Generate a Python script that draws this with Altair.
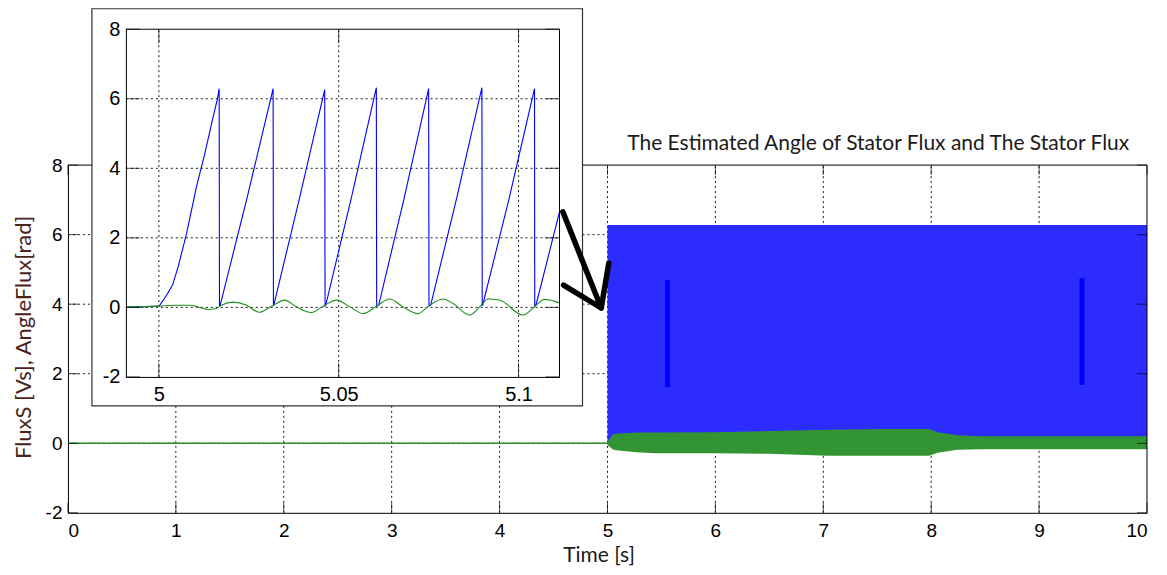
import altair as alt
import pandas as pd

# ---------------- main plot data (time 0..10 s) ----------------
pre_t = [0.0, 5.0]
pre_flux = [0.0, 0.0]

# dense stator-angle sawtooth after 5 s, drawn as its envelope
angle_env_t = [5.0, 10.0]
angle_env_hi = [6.28, 6.28]
angle_env_lo = [0.0, 0.0]

# dense stator-flux oscillation after 5 s, drawn as its envelope
flux_env_t = [5.0, 5.05, 5.1, 5.27, 5.44, 5.98, 6.5, 7.04, 7.57, 7.98, 8.06, 8.24, 8.46, 9.17, 10.0]
flux_env_hi = [0.04, 0.26, 0.28, 0.31, 0.31, 0.32, 0.35, 0.39, 0.41, 0.41, 0.32, 0.23, 0.2, 0.2, 0.2]
flux_env_lo = [-0.05, -0.18, -0.21, -0.26, -0.29, -0.29, -0.3, -0.36, -0.36, -0.36, -0.27, -0.19, -0.17, -0.17, -0.17]

# darker (overlapping) blue segments inside the dense block
dense_t = [5.556, 9.398]
dense_lo = [1.62, 1.68]
dense_hi = [4.70, 4.75]

main_xticks = [0, 1, 2, 3, 4, 5, 6, 7, 8, 9, 10]
main_yticks = [-2, 0, 2, 4, 6, 8]
main_xgrid = [1, 2, 3, 4, 5, 6, 7, 8, 9]
main_ygrid = [0, 2, 4, 6]

# ---------------- inset data (zoom 4.99..5.11 s) ----------------
ins_angle_t = [4.99083, 5.00009, 5.00213, 5.0038, 5.00537, 5.00769, 5.01046, 5.01278, 5.01509, 5.0162, 5.01676,
               5.01685, 5.01704, 5.0244, 5.03176,
               5.03185, 5.03194, 5.0390, 5.04611,
               5.0462, 5.04639, 5.0534, 5.06046,
               5.06055, 5.06111, 5.0681, 5.075,
               5.0751, 5.07556, 5.0827, 5.08981,
               5.0899, 5.09009, 5.0973, 5.10444,
               5.1045, 5.10491, 5.11139]
ins_angle_v = [0.0, 0.035, 0.35, 0.64, 1.17, 2.12, 3.47, 4.43, 5.48, 5.96, 6.29,
               0.04, 0.06, 3.1, 6.29,
               0.04, 0.06, 3.1, 6.26,
               0.04, 0.06, 3.1, 6.32,
               0.04, 0.06, 3.1, 6.29,
               0.04, 0.06, 3.1, 6.32,
               0.04, 0.09, 3.1, 6.29,
               0.04, 0.09, 2.75]

ins_flux_t = [4.99083, 5.0001, 5.004, 5.0086, 5.0114, 5.0137, 5.016, 5.0174, 5.0206, 5.0244, 5.0278,
              5.0318, 5.035, 5.0382, 5.0424, 5.0461, 5.0494, 5.0531, 5.0568, 5.0609, 5.0642,
              5.0679, 5.072, 5.0753, 5.079, 5.0818, 5.0864, 5.0896, 5.0915, 5.0947, 5.1012,
              5.1049, 5.1072, 5.11139]
ins_flux_v = [0.015, 0.035, 0.063, 0.063, -0.004, -0.06, -0.03, 0.063, 0.15, 0.063, -0.14,
              0.063, 0.21, 0.015, -0.15, 0.063, 0.21, 0.015, -0.18, 0.063, 0.24,
              0.015, -0.18, 0.063, 0.24, 0.11, -0.22, 0.063, 0.24, 0.21, -0.22,
              0.063, 0.23, 0.13]

ins_xdomain = [4.99083, 5.11139]
ins_xticks = [5.0, 5.05, 5.1]
ins_yticks = [-2, 0, 2, 4, 6, 8]
ins_ygrid = [0, 2, 4, 6]

# ---------------- hand-drawn arrow (main-plot coordinates) ----------------
arrow_x = [4.586, 4.942, 4.593, 5.012, 4.942]
arrow_y = [6.658, 3.89, 4.55, 5.175, 3.89]
arrow_part = ["a", "a", "a", "b", "b"]
arrow_ord = [0, 1, 2, 0, 1]

TITLE = "The Estimated Angle of Stator Flux and The Stator Flux"

# ---------------- layout constants ----------------
# the view rectangle is the main plot frame; the inset sits above/inside it
W, H = 1080, 348
TOP = 157
LABEL_FONT = "Liberation Sans"
TEXT_FONT = "Lato"
RAW = "'' + datum.value"   # plain labels with ASCII hyphen-minus

mx = alt.Scale(domain=[0, 10], range=[0, W], nice=False, zero=False)
my = alt.Scale(domain=[-2, 8], range=[H, 0], nice=False, zero=False)
ix = alt.Scale(domain=ins_xdomain, range=[58, 492], nice=False, zero=False)
iy = alt.Scale(domain=[-2, 8], range=[369 - TOP, 21 - TOP], nice=False, zero=False)

mxa = alt.Axis(values=main_xticks, orient="bottom", grid=False, ticks=False, tickSize=0,
               domainColor="black", labelFont=LABEL_FONT, labelFontSize=19, labelColor="black",
               labelPadding=9, labelExpr=RAW, title="Time [s]", titleFont=TEXT_FONT,
               titleFontSize=21, titleFontWeight="normal", titleColor="#1a1a1a",
               titlePadding=4, titleX=531)
mya = alt.Axis(values=main_yticks, orient="left", grid=False, ticks=False, tickSize=0,
               domainColor="black", labelFont=LABEL_FONT, labelFontSize=19, labelColor="black",
               labelPadding=6, labelExpr=RAW, title="FluxS [Vs], AngleFlux[rad]",
               titleFont=TEXT_FONT, titleFontSize=22, titleFontWeight="normal",
               titleColor="#4a2418", titlePadding=10, titleY=329 - TOP)
ixa = alt.Axis(values=ins_xticks, orient="bottom", offset=(369 - TOP) - H, zindex=1, grid=False,
               ticks=False, tickSize=0, domainColor="black", labelFont=LABEL_FONT,
               labelFontSize=20, labelColor="black", labelPadding=8, labelExpr=RAW, title=None)
iya = alt.Axis(values=ins_yticks, orient="left", offset=-58, zindex=1, grid=False,
               ticks=False, tickSize=0, domainColor="black", labelFont=LABEL_FONT,
               labelFontSize=20, labelColor="black", labelPadding=6, labelExpr=RAW, title=None)

GRID = dict(color="black", strokeDash=[2, 3], strokeWidth=1, opacity=0.9)


def frame_and_ticks(sx, sy, ax, ay, xd, yd, xt, yt, L):
    """Top/right frame lines plus inward ticks on all four sides."""
    frame = pd.DataFrame({"x1": [xd[0], xd[1]], "x2": [xd[1], xd[1]],
                          "y1": [yd[1], yd[0]], "y2": [yd[1], yd[1]]})
    layers = [alt.Chart(frame).mark_rule(color="black", strokeWidth=1).encode(
        x=alt.X("x1:Q", scale=sx, axis=ax), x2="x2:Q",
        y=alt.Y("y1:Q", scale=sy, axis=ay), y2="y2:Q")]
    xtd = pd.DataFrame({"v": xt})
    ytd = pd.DataFrame({"v": yt})
    for yv, off in ((yd[0], -L / 2), (yd[1], L / 2)):
        layers.append(alt.Chart(xtd).mark_tick(orient="vertical", size=L, thickness=1,
                                               color="black", yOffset=off).encode(
            x=alt.X("v:Q", scale=sx, axis=ax), y=alt.Y(datum=yv, scale=sy, axis=ay)))
    for xv, off in ((xd[0], L / 2), (xd[1], -L / 2)):
        layers.append(alt.Chart(ytd).mark_tick(orient="horizontal", size=L, thickness=1,
                                               color="black", xOffset=off).encode(
            y=alt.Y("v:Q", scale=sy, axis=ay), x=alt.X(datum=xv, scale=sx, axis=ax)))
    return layers


# ---------------- main plot ----------------
m_vgrid = alt.Chart(pd.DataFrame({"v": main_xgrid})).mark_rule(**GRID).encode(
    x=alt.X("v:Q", scale=mx, axis=mxa), y=alt.Y(datum=-2, scale=my, axis=mya), y2=alt.Y2(datum=8))
m_hgrid = alt.Chart(pd.DataFrame({"v": main_ygrid})).mark_rule(**GRID).encode(
    y=alt.Y("v:Q", scale=my, axis=mya), x=alt.X(datum=0, scale=mx, axis=mxa), x2=alt.X2(datum=10))
m_angle = alt.Chart(pd.DataFrame({"t": angle_env_t, "hi": angle_env_hi, "lo": angle_env_lo})).mark_area(
    color="#2c2cff").encode(x=alt.X("t:Q", scale=mx, axis=mxa), y=alt.Y("hi:Q", scale=my, axis=mya), y2="lo:Q")
m_dense = alt.Chart(pd.DataFrame({"t": dense_t, "lo": dense_lo, "hi": dense_hi})).mark_rule(
    color="#0000f6", strokeWidth=5).encode(x=alt.X("t:Q", scale=mx, axis=mxa),
                                          y=alt.Y("lo:Q", scale=my, axis=mya), y2="hi:Q")
m_flux = alt.Chart(pd.DataFrame({"t": flux_env_t, "hi": flux_env_hi, "lo": flux_env_lo})).mark_area(
    color="#339433").encode(x=alt.X("t:Q", scale=mx, axis=mxa), y=alt.Y("hi:Q", scale=my, axis=mya), y2="lo:Q")
m_pre = alt.Chart(pd.DataFrame({"t": pre_t, "v": pre_flux})).mark_line(
    color="#2a922a", strokeWidth=1.5).encode(x=alt.X("t:Q", scale=mx, axis=mxa), y=alt.Y("v:Q", scale=my, axis=mya))

main = alt.layer(m_vgrid, m_hgrid, m_angle, m_dense, m_flux, m_pre,
                 *frame_and_ticks(mx, my, mxa, mya, [0, 10], [-2, 8], main_xticks, main_yticks, 10))

# ---------------- inset ----------------
box = alt.Chart(pd.DataFrame({"k": [0]})).mark_rect(fill="white", stroke="#333333", strokeWidth=1.2).encode(
    x=alt.value(24), x2=alt.value(515), y=alt.value(0.5 - TOP), y2=alt.value(398 - TOP))
i_vgrid = alt.Chart(pd.DataFrame({"v": ins_xticks})).mark_rule(**GRID).encode(
    x=alt.X("v:Q", scale=ix, axis=ixa), y=alt.Y(datum=-2, scale=iy, axis=iya), y2=alt.Y2(datum=8))
i_hgrid = alt.Chart(pd.DataFrame({"v": ins_ygrid})).mark_rule(**GRID).encode(
    y=alt.Y("v:Q", scale=iy, axis=iya), x=alt.X(datum=ins_xdomain[0], scale=ix, axis=ixa),
    x2=alt.X2(datum=ins_xdomain[1]))
i_angle = alt.Chart(pd.DataFrame({"t": ins_angle_t, "v": ins_angle_v})).mark_line(
    color="#0000ff", strokeWidth=1.1).encode(x=alt.X("t:Q", scale=ix, axis=ixa), y=alt.Y("v:Q", scale=iy, axis=iya))
i_flux = alt.Chart(pd.DataFrame({"t": ins_flux_t, "v": ins_flux_v})).mark_line(
    color="#1f8f1f", strokeWidth=1.1, interpolate="monotone").encode(
    x=alt.X("t:Q", scale=ix, axis=ixa), y=alt.Y("v:Q", scale=iy, axis=iya))

inset = alt.layer(box, i_vgrid, i_hgrid, i_angle, i_flux,
                  *frame_and_ticks(ix, iy, ixa, iya, ins_xdomain, [-2, 8], ins_xticks, ins_yticks, 14))

# ---------------- arrow ----------------
ax_s = alt.Scale(domain=[0, 10], range=[0, W], nice=False, zero=False)
ay_s = alt.Scale(domain=[-2, 8], range=[H, 0], nice=False, zero=False)
arrow = alt.Chart(pd.DataFrame({"x": arrow_x, "y": arrow_y, "p": arrow_part, "o": arrow_ord})).mark_line(
    color="black", strokeWidth=5.5, strokeCap="round", strokeJoin="round").encode(
    x=alt.X("x:Q", scale=ax_s, axis=None), y=alt.Y("y:Q", scale=ay_s, axis=None),
    detail="p:N", order="o:Q")

chart = alt.layer(main, inset, arrow).resolve_scale(
    x="independent", y="independent").resolve_axis(x="independent", y="independent").properties(
    width=W, height=H,
    title=alt.TitleParams(TITLE, font=TEXT_FONT, fontSize=21, fontWeight="normal", color="#1a1a1a",
                          anchor="middle", frame="group", offset=0, dx=271, dy=146),
    padding={"left": 60, "top": TOP, "right": 12, "bottom": 54},
    autosize=alt.AutoSizeParams(type="none"),
).configure(
    background="white",
    view=alt.ViewConfig(stroke="transparent", strokeWidth=0, strokeOpacity=0),
    style={"cell": {"stroke": "transparent", "strokeWidth": 0}},
    axis=alt.AxisConfig(grid=False),
)

chart.save("out.html", embed_options={"renderer": "svg", "actions": False})
